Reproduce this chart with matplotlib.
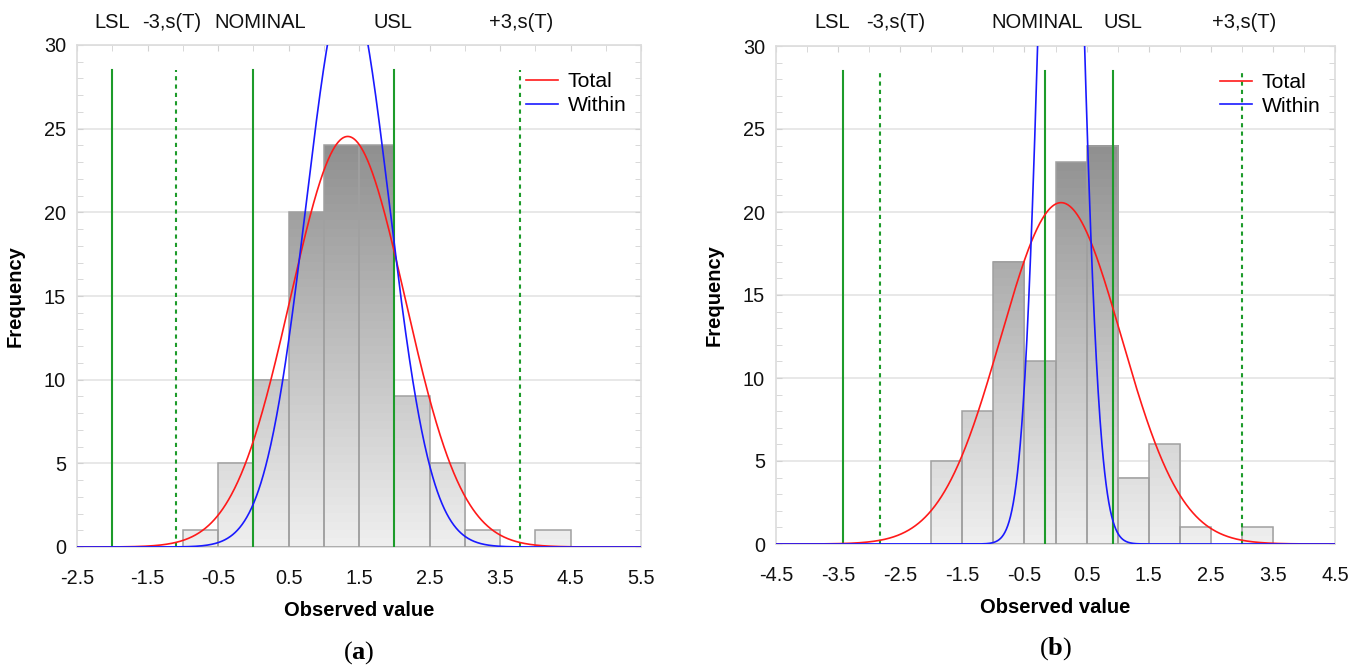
import numpy as np
import matplotlib
matplotlib.use("Agg")
import matplotlib.pyplot as plt
from matplotlib.patches import Rectangle
from matplotlib.ticker import MultipleLocator, FixedLocator

plt.rcParams['font.family'] = ['Liberation Sans', 'DejaVu Sans']
plt.rcParams['mathtext.fontset'] = 'custom'
plt.rcParams['mathtext.rm'] = 'Liberation Serif'
plt.rcParams['mathtext.bf'] = 'Liberation Serif:bold'

BIN_WIDTH = 0.5
N_OBS = 100
spec_labels = ["LSL", "-3,s(T)", "NOMINAL", "USL", "+3,s(T)"]

# ---- panel (a) ----
a_bin_left = [-1.0, -0.5, 0.0, 0.5, 1.0, 1.5, 2.0, 2.5, 3.0, 4.0]
a_counts = [1, 5, 10, 20, 24, 24, 9, 5, 1, 1]
a_mean = 1.34
a_sigma_total = 0.813
a_sigma_within = 0.59
a_lsl, a_nominal, a_usl = -2.0, 0.0, 2.0
a_xticks = [-2.5, -1.5, -0.5, 0.5, 1.5, 2.5, 3.5, 4.5, 5.5]

# ---- panel (b) ----
b_bin_left = [-2.0, -1.5, -1.0, -0.5, 0.0, 0.5, 1.0, 1.5, 2.0, 3.0]
b_counts = [5, 8, 17, 11, 23, 24, 4, 6, 1, 1]
b_mean = 0.09
b_sigma_total = 0.97
b_sigma_within = 0.30
b_lsl, b_nominal, b_usl = -3.42, -0.17, 0.93
b_xticks = [-4.5, -3.5, -2.5, -1.5, -0.5, 0.5, 1.5, 2.5, 3.5, 4.5]

yticks = [0, 5, 10, 15, 20, 25, 30]

GREEN = '#1d9b2a'
FS = 14


def bar_rgb(y):
    # banded grey shade that darkens with height
    band = np.floor(y / 0.5) * 0.5
    g = np.clip(238 - 4.0 * band, 0, 255) / 255.0
    return np.stack([g, g, g], axis=-1)


def normal_curve(x, mu, sigma):
    return N_OBS * BIN_WIDTH * np.exp(-0.5 * ((x - mu) / sigma) ** 2) / (sigma * np.sqrt(2 * np.pi))


def draw_panel(ax, bin_left, counts, mean, s_tot, s_within, lsl, nominal, usl,
               xticks, label_nudge, caption):
    x0, x1 = xticks[0], xticks[-1]
    # histogram bars with vertical grey shading
    for left, c in zip(bin_left, counts):
        if c <= 0:
            continue
        ys = np.linspace(0, c, 400)
        img = bar_rgb(ys)[:, None, :]
        ax.imshow(img, extent=(left, left + BIN_WIDTH, 0, c), origin='lower',
                  aspect='auto', interpolation='nearest', zorder=2)
        ax.add_patch(Rectangle((left, 0), BIN_WIDTH, c, facecolor='none',
                               edgecolor='#a0a0a0', linewidth=1.1, zorder=3))

    # specification and +/-3 sigma lines
    lo3 = mean - 3 * s_tot
    hi3 = mean + 3 * s_tot
    line_x = [lsl, lo3, nominal, usl, hi3]
    styles = ['-', (0, (2, 2)), '-', '-', (0, (2, 2))]
    for xv, ls in zip(line_x, styles):
        ax.plot([xv, xv], [0, 28.5], color=GREEN, lw=1.5, ls=ls, zorder=4)

    xs = np.linspace(x0, x1, 1200)
    ax.plot(xs, normal_curve(xs, mean, s_tot), color='#ff1a1a', lw=1.2,
            label='Total', zorder=5)
    ax.plot(xs, normal_curve(xs, mean, s_within), color='#1a1aff', lw=1.2,
            label='Within', zorder=5)

    for xv, lab, dx in zip(line_x, spec_labels, label_nudge):
        ax.annotate(lab, xy=(xv, 1.0), xycoords=('data', 'axes fraction'),
                    xytext=(dx, 23), textcoords='offset pixels',
                    ha='center', va='center', fontsize=FS + 0.5, color='#111111')

    ax.set_xlim(x0, x1)
    ax.set_ylim(0, 30)
    ax.xaxis.set_major_locator(FixedLocator(xticks))
    ax.xaxis.set_minor_locator(MultipleLocator(0.5))
    ax.yaxis.set_major_locator(FixedLocator(yticks))
    ax.yaxis.set_minor_locator(MultipleLocator(1))
    ax.set_xticklabels([f"{t:g}" for t in xticks])
    ax.tick_params(which='both', direction='in', color='#d2d2d2', top=True,
                   right=True, bottom=False, length=4, labelsize=FS + 0.3,
                   labelcolor='#111111')
    ax.tick_params(axis='x', pad=16)
    ax.tick_params(axis='y', pad=8)
    ax.grid(axis='y', which='major', color='#e4e4e4', lw=1.2, zorder=0)
    ax.set_axisbelow(True)
    for sp in ax.spines.values():
        sp.set_color('#dcdcdc')
        sp.set_linewidth(1.2)

    ax.set_xlabel('Observed value', fontsize=FS + 0.5, fontweight='bold', labelpad=9)
    ax.set_ylabel('Frequency', fontsize=FS + 0.5, fontweight='bold', labelpad=14)
    ax.legend(loc='upper right', frameon=False, fontsize=FS + 1.2,
              handlelength=1.5, handletextpad=0.45, labelspacing=0.22,
              borderaxespad=0.3, bbox_to_anchor=(1.0, 0.975))
    ax.text(0.5, -0.21, caption, transform=ax.transAxes, ha='center',
            va='center', fontsize=19)


fig = plt.figure(figsize=(13.67, 6.69), dpi=100)
W, H = 1367.0, 669.0
ax_a = fig.add_axes([77 / W, (H - 547) / H, 564 / W, 502 / H])
ax_b = fig.add_axes([776 / W, (H - 544) / H, 559 / W, 498 / H])

draw_panel(ax_a, a_bin_left, a_counts, a_mean, a_sigma_total, a_sigma_within,
           a_lsl, a_nominal, a_usl, a_xticks, [0, -4, 7, -1, 1], r'$(\mathbf{a})$')
draw_panel(ax_b, b_bin_left, b_counts, b_mean, b_sigma_total, b_sigma_within,
           b_lsl, b_nominal, b_usl, b_xticks, [-11, 15, -8, 10, 2], r'$(\mathbf{b})$')

fig.savefig('out.png', dpi=100)
